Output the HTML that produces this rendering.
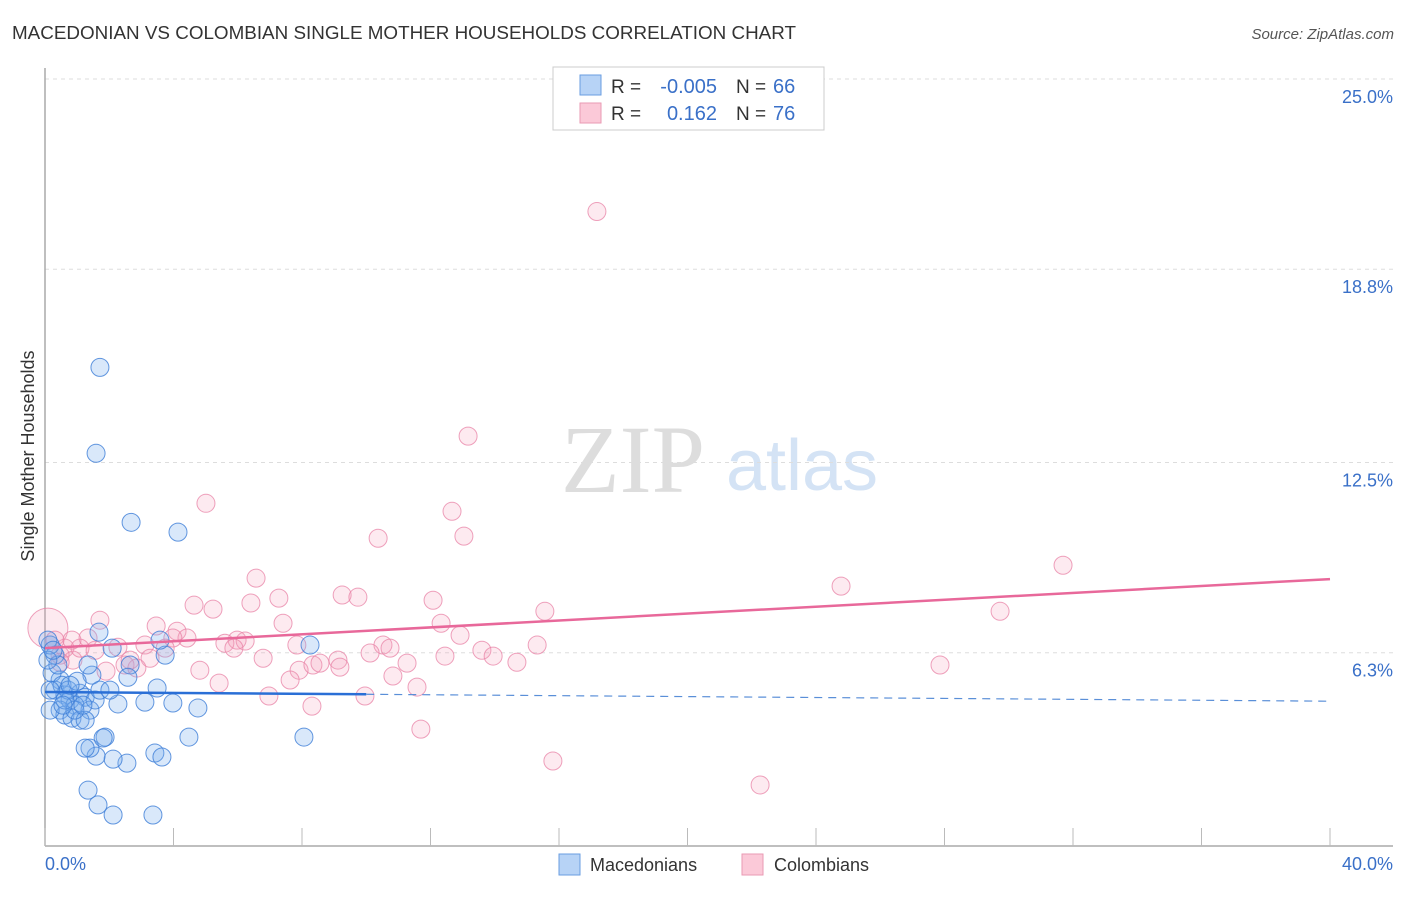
<!DOCTYPE html>
<html><head><meta charset="utf-8"><style>
body{margin:0;background:#fff;font-family:"Liberation Sans",sans-serif;}
</style></head><body>
<svg id="c" width="1406" height="892" xmlns="http://www.w3.org/2000/svg">
<text x="12" y="39" font-size="18" fill="#333" textLength="784" lengthAdjust="spacingAndGlyphs">MACEDONIAN VS COLOMBIAN SINGLE MOTHER HOUSEHOLDS CORRELATION CHART</text>
<text x="1394" y="39" font-size="15" fill="#555" font-style="italic" text-anchor="end">Source: ZipAtlas.com</text>
<text x="633" y="492" font-size="96" fill="#ddd" font-family="Liberation Serif" text-anchor="middle">ZIP</text>
<text x="802" y="490" font-size="72" fill="#d4e3f5" text-anchor="middle">atlas</text>
<g id="grid"></g><g id="axes"></g><g id="marks"></g>
<text transform="translate(34,456) rotate(-90)" font-size="18" fill="#333" text-anchor="middle">Single Mother Households</text>
<text x="45" y="870" font-size="18" fill="#3a70c8">0.0%</text>
<text x="1393" y="870" font-size="18" fill="#3a70c8" text-anchor="end">40.0%</text>
<g>
<rect x="559" y="854" width="21" height="21" fill="#b7d3f6" stroke="#6a9ee0"/>
<text x="590" y="871" font-size="18" fill="#333">Macedonians</text>
<rect x="742" y="854" width="21" height="21" fill="#fbc9d8" stroke="#ea9ab3"/>
<text x="774" y="871" font-size="18" fill="#333">Colombians</text>
</g>
<g>
<rect x="553" y="67" width="271" height="63" fill="#fff" stroke="#ccc"/>
<rect x="580" y="75" width="21" height="20" fill="#b7d3f6" stroke="#6a9ee0"/>
<rect x="580" y="103" width="21" height="20" fill="#fbc9d8" stroke="#ea9ab3"/>
<text x="611" y="93" font-size="19" fill="#333">R =</text>
<text x="717" y="93" font-size="20" fill="#3a70c8" text-anchor="end">-0.005</text>
<text x="736" y="93" font-size="19" fill="#333">N =</text>
<text x="773" y="93" font-size="20" fill="#3a70c8">66</text>
<text x="611" y="120" font-size="19" fill="#333">R =</text>
<text x="717" y="120" font-size="20" fill="#3a70c8" text-anchor="end">0.162</text>
<text x="736" y="120" font-size="19" fill="#333">N =</text>
<text x="773" y="120" font-size="20" fill="#3a70c8">76</text>
</g>
</svg>
<script>
const yTicks=[6.3,12.5,18.8,25.0];
const blueX=[1.71,1.59,2.68,4.14,8.25,3.74,3.58,1.68,2.09,2.65,2.58,3.49,2.27,3.11,3.98,4.76,4.48,8.06,3.42,3.64,2.55,2.12,1.59,1.40,1.25,1.87,1.81,1.34,1.65,2.12,3.36,1.46,0.47,0.31,0.62,0.78,1.09,1.25,0.93,1.40,0.47,0.62,0.84,1.09,0.16,0.31,0.16,0.09,0.22,0.40,0.53,0.72,1.00,0.16,1.56,1.71,1.25,0.93,0.62,0.78,2.02,0.56,1.18,0.09,0.25,1.34];
const blueY=[15.60,12.80,10.55,10.23,6.55,6.22,6.71,6.97,6.45,5.90,5.50,5.15,4.63,4.69,4.66,4.50,3.55,3.55,3.03,2.90,2.70,2.83,2.93,3.19,3.19,3.55,3.52,1.82,1.34,1.01,1.01,5.57,5.41,5.08,4.92,4.76,4.98,4.85,4.59,4.43,4.43,4.27,4.17,4.10,4.43,6.22,6.55,6.71,5.64,5.90,5.24,5.08,5.37,5.08,4.76,5.08,4.10,4.43,4.76,5.24,5.08,4.59,4.59,6.06,6.38,5.90];
const pinkX=[17.18,13.17,5.01,12.67,13.04,10.37,31.69,24.78,6.57,7.28,4.64,6.41,5.23,9.25,9.74,12.08,15.56,29.73,1.71,3.46,7.41,12.33,4.11,4.42,3.98,5.98,6.23,5.60,5.88,2.27,0.62,3.11,1.34,3.74,7.84,10.52,10.74,12.92,13.60,15.32,10.12,6.79,3.27,2.49,0.87,0.47,1.90,2.86,4.82,7.91,8.34,8.56,9.12,11.27,13.95,14.69,12.45,27.86,7.63,10.83,5.42,11.58,6.97,9.96,8.31,11.70,15.81,22.26,0.09,0.31,1.09,1.56,0.84,0.47,2.65,9.18];
const pinkY=[20.68,13.36,11.17,10.91,10.10,10.03,9.15,8.47,8.73,8.08,7.85,7.92,7.72,8.18,8.11,8.01,7.65,7.65,7.36,7.17,7.26,7.26,7.00,6.78,6.78,6.71,6.68,6.61,6.45,6.48,6.45,6.55,6.78,6.45,6.55,6.55,6.45,6.87,6.38,6.55,6.29,6.12,6.12,5.90,6.06,6.22,5.70,5.80,5.73,5.73,5.90,5.96,6.06,5.96,6.19,5.99,6.19,5.90,5.41,5.54,5.31,5.18,4.89,4.89,4.56,3.81,2.77,1.99,7.10,6.71,6.45,6.38,6.71,5.99,6.06,5.83];
const blueTrend=[5.02,4.72];
const pinkTrend=[6.45,8.70];
const X=v=>45+v/40*1285, Y=v=>846-v/25*767;
const NS='http://www.w3.org/2000/svg';
function mk(tag,attrs,parent){const e=document.createElementNS(NS,tag);for(const k in attrs)e.setAttribute(k,attrs[k]);document.getElementById(parent).appendChild(e);return e;}
yTicks.forEach(t=>{
  const l=mk('line',{x1:45,x2:1393,y1:Y(t),y2:Y(t),stroke:'#ddd','stroke-dasharray':'4,4'},'grid');
  
  
  const tx=mk('text',{x:1393,y:Y(t)+24,'font-size':18,fill:'#3a70c8','text-anchor':'end'},'grid');
  tx.textContent=t.toFixed(1)+'%';
  
  
});
const ax=mk('line',{x1:45,x2:1393,y1:846,y2:846,stroke:'#aaa','stroke-width':1.5},'axes');


const ay=mk('line',{x1:45,x2:45,y1:68,y2:846,stroke:'#aaa','stroke-width':1.5},'axes');


for(let i=0;i<=10;i++){const t=mk('line',{x1:X(i*4),x2:X(i*4),y1:828,y2:846,stroke:'#bbb'},'axes');
  
  }
pinkX.forEach((x,i)=>{const c=mk('circle',{cx:X(x),cy:Y(pinkY[i]),r:i==68?20:9,fill:'rgba(245,160,188,0.22)',stroke:'rgba(232,130,165,0.75)','stroke-width':1},'marks');
  
  });
blueX.forEach((x,i)=>{const c=mk('circle',{cx:X(x),cy:Y(blueY[i]),r:9,fill:'rgba(120,172,238,0.28)',stroke:'rgba(60,125,215,0.8)','stroke-width':1},'marks');
  
  });
const yb=v=>blueTrend[0]+(blueTrend[1]-blueTrend[0])*v/40;
const b1=mk('line',{x1:X(0),y1:Y(yb(0)),x2:X(10),y2:Y(yb(10)),stroke:'#2a6fd6','stroke-width':2.5},'marks');


const b2=mk('line',{x1:X(10),y1:Y(yb(10)),x2:X(40),y2:Y(yb(40)),stroke:'#5a8fd8','stroke-width':1.2,'stroke-dasharray':'8,6'},'marks');


const p1=mk('line',{x1:X(0),y1:Y(pinkTrend[0]),x2:X(40),y2:Y(pinkTrend[1]),stroke:'#e8689a','stroke-width':2.5},'marks');


</script>
</body></html>
